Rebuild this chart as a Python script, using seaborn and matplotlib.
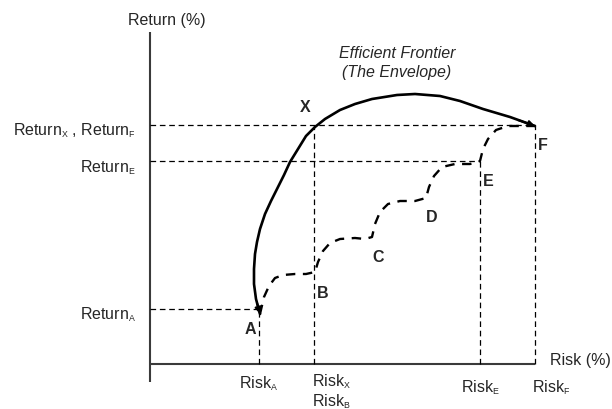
import matplotlib
matplotlib.use("Agg")
import matplotlib.pyplot as plt
import matplotlib._mathtext as _mt
import seaborn as sns
import pandas as pd

# smaller subscripts, like the reference
_mt.SHRINK_FACTOR = 0.55

# ---- data (risk on x, return on y; arbitrary units, origin at the axes corner) ----
frontier_risk = [110, 106, 104, 104, 105, 107, 110, 115, 121, 127, 134, 140, 148, 156, 165,
                 175, 190, 205, 222, 247, 265, 290, 310, 333, 360, 385]
frontier_return = [50, 65, 80, 95, 110, 122, 135, 150, 163, 175, 189, 202, 215, 228, 237,
                   245, 254, 260, 265, 269, 270, 268, 263, 255, 247, 238]

portfolio_risk = [110, 114, 119, 125, 133, 145, 156, 165,
                  168, 173, 180, 190, 205, 215, 222,
                  225, 230, 238, 250, 265, 276,
                  279, 284, 292, 305, 320, 330,
                  333, 338, 346, 358, 370, 385]
portfolio_return = [50, 67, 78, 86, 89, 90, 90, 92,
                    102, 113, 121, 125, 126, 125, 127,
                    140, 152, 160, 163, 163, 166,
                    177, 188, 197, 200, 200, 203,
                    215, 225, 234, 238, 238, 238]

point_names = ["A", "B", "C", "D", "E", "F", "X"]
point_risk = [109, 165, 222, 276, 330, 385, 164]
point_return = [52, 92, 127, 166, 203, 238, 239]

risk_tick_labels = ["Risk$_\\mathrm{A}$", "Risk$_\\mathrm{X}$", "Risk$_\\mathrm{B}$", "Risk$_\\mathrm{E}$", "Risk$_\\mathrm{F}$"]
return_tick_labels = ["Return$_\\mathrm{X}$ , Return$_\\mathrm{F}$", "Return$_\\mathrm{E}$", "Return$_\\mathrm{A}$"]

guide_risk = [109, 164, 330, 385]        # vertical dashed guides (A, X/B, E, F)
guide_risk_top = [52, 239, 203, 238]
guide_return = [239, 203, 55]            # horizontal dashed guides (X/F, E, A)
guide_return_right = [385, 330, 109]

sns.set_theme(style="white")
plt.rcParams["font.family"] = ["Liberation Sans", "DejaVu Sans"]
plt.rcParams["mathtext.fontset"] = "custom"
plt.rcParams["mathtext.rm"] = "Liberation Sans"
plt.rcParams["mathtext.it"] = "Liberation Sans:italic"
plt.rcParams["mathtext.bf"] = "Liberation Sans:bold"

fig = plt.figure(figsize=(6.12, 4.10), dpi=100)
ax = fig.add_axes([0, 0, 1, 1])

fs = 11.5

# axes lines
axis_col = "#3a3a3a"
ax.plot([0, 0], [-18, 332], color=axis_col, lw=1.5, solid_capstyle="butt")
ax.plot([0, 385], [0, 0], color=axis_col, lw=1.5, solid_capstyle="butt")

# guides
for gx, gt in zip(guide_risk, guide_risk_top):
    ax.plot([gx, gx], [0, gt], color="black", lw=0.9, linestyle=(0, (4.5, 3)))
for gy, gr in zip(guide_return, guide_return_right):
    ax.plot([0, gr], [gy, gy], color="black", lw=0.9, linestyle=(0, (4.5, 3)))

# frontier (solid) and portfolio combinations (dashed)
df_front = pd.DataFrame({"risk": frontier_risk, "ret": frontier_return})
df_port = pd.DataFrame({"risk": portfolio_risk, "ret": portfolio_return})
sns.lineplot(data=df_front, x="risk", y="ret", sort=False, estimator=None,
             color="black", lw=1.9, ax=ax)
sns.lineplot(data=df_port, x="risk", y="ret", sort=False, estimator=None,
             color="black", lw=1.7, linestyle=(0, (4, 3.2)), ax=ax)
ax.set_xlim(-150, 462)
ax.set_ylim(-45, 365)
ax.axis("off")

# arrowheads at both ends of the frontier
ax.annotate("", xy=(frontier_risk[0], frontier_return[0]),
            xytext=(frontier_risk[1] + 1, frontier_return[1] - 4),
            arrowprops=dict(arrowstyle="-|>", color="black", lw=1.5, mutation_scale=9, shrinkA=0, shrinkB=0))
ax.annotate("", xy=(frontier_risk[-1], frontier_return[-1]),
            xytext=(frontier_risk[-2] + 8, frontier_return[-2] - 3),
            arrowprops=dict(arrowstyle="-|>", color="black", lw=1.5, mutation_scale=9, shrinkA=0, shrinkB=0))

# point labels
label_offsets = {"A": (-9, -17), "B": (8, -20), "C": (6, -19), "D": (6, -19),
                 "E": (8, -20), "F": (8, -18), "X": (-9, 18)}
for n, r, v in zip(point_names, point_risk, point_return):
    dx, dy = label_offsets[n]
    ax.text(r + dx, v + dy, n, fontsize=fs, fontweight="bold", ha="center", va="center")

# axis titles
ax.text(17, 345, "Return (%)", fontsize=fs, ha="center", va="center")
ax.text(400, 4, "Risk (%)", fontsize=fs, ha="left", va="center")

# return tick labels
ax.text(-14, 234, return_tick_labels[0], fontsize=fs, ha="right", va="center")
ax.text(-14, 197, return_tick_labels[1], fontsize=fs, ha="right", va="center")
ax.text(-14, 50, return_tick_labels[2], fontsize=fs, ha="right", va="center")

# risk tick labels
ax.text(109, -19, risk_tick_labels[0], fontsize=fs, ha="center", va="center")
ax.text(162, -17, risk_tick_labels[1], fontsize=fs, ha="left", va="center")
ax.text(162, -37, risk_tick_labels[2], fontsize=fs, ha="left", va="center")
ax.text(330, -23, risk_tick_labels[3], fontsize=fs, ha="center", va="center")
ax.text(382, -23, risk_tick_labels[4], fontsize=fs, ha="left", va="center")

# frontier title
ax.text(247, 312, "Efficient Frontier", fontsize=fs, style="italic", ha="center", va="center")
ax.text(247, 292, "(The Envelope)", fontsize=fs, style="italic", ha="center", va="center")

fig.savefig("out.png", dpi=100, facecolor="white")
